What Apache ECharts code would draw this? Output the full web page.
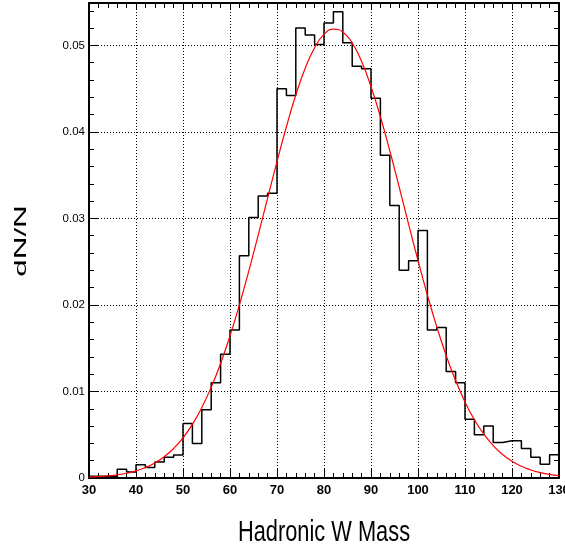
<!DOCTYPE html>
<html>
<head>
<meta charset="utf-8">
<script src="https://cdn.jsdelivr.net/npm/echarts@6/dist/echarts.min.js"></script>
<style>
html,body{margin:0;padding:0;background:#fff;}
#chart{width:565px;height:552px;}
</style>
</head>
<body>
<div id="chart"></div>
<script>
// Histogram bin left edges (bin width 2) and contents
var binEdges = [30,32,34,36,38,40,42,44,46,48,50,52,54,56,58,60,62,64,66,68,70,72,74,76,78,80,82,84,86,88,90,92,94,96,98,100,102,104,106,108,110,112,114,116,118,120,122,124,126,128];
var binValues = [0.0002,0.0002,0.0002,0.0010,0.0007,0.00154,0.0012,0.00185,0.0024,0.00266,
  0.0063,0.0040,0.0079,0.0110,0.0143,0.0171,0.0257,0.0301,0.0326,0.0329,
  0.0450,0.0442,0.0520,0.0512,0.0501,0.0526,0.0539,0.0503,0.0476,0.0473,
  0.0439,0.0373,0.0315,0.0240,0.0251,0.0286,0.0171,0.0174,0.0123,0.0110,
  0.0068,0.0050,0.0060,0.0041,0.0043,0.0043,0.0034,0.0024,0.0016,0.0027];
var histEnd = 130;

// Fit curve points
var fitX = [30,32,34,36,38,40,42,44,46,48,50,52,54,56,58,60,62,64,66,68,70,72,74,76,78,80,82,84,86,88,90,92,94,96,98,100,102,104,106,108,110,112,114,116,118,120,122,124,126,128,130];
var fitY = [0.00009,0.00015,0.00024,0.00036,0.00055,0.00083,0.00121,0.00174,0.00246,0.00341,
  0.00464,0.00620,0.00814,0.01048,0.01324,0.01643,0.0200,0.02392,0.02807,0.03234,
  0.03657,0.0406,0.04426,0.04735,0.04973,0.05127,0.05189,0.05155,0.05028,0.04814,
  0.04525,0.04175,0.03782,0.03362,0.02934,0.02514,0.02114,0.01746,0.01415,0.01126,
  0.00879,0.00674,0.00508,0.00375,0.00272,0.00194,0.00135,0.00093,0.00063,0.00041,0.00027];

var xTitle = 'Hadronic W Mass';
var yTitle = 'dN/N';

var histData = binEdges.map(function(x,i){return [x, binValues[i]];});
histData.push([histEnd, binValues[binValues.length-1]]);
var fitData = fitX.map(function(x,i){return [x, fitY[i]];});

var XMIN = 30, XMAX = 130, YMIN = 0, YMAX = 0.0549;
var narrow = "'Liberation Sans Narrow','Liberation Sans',Arial,sans-serif";
var dotted = {show:true, lineStyle:{color:'#000', width:1, type:[1,2]}};

var chart = echarts.init(document.getElementById('chart'), null, {renderer:'canvas'});
chart.setOption({
  animation:false,
  backgroundColor:'#fff',
  grid:{left:89, right:6, top:3, bottom:74, containLabel:false, outerBoundsMode:'none'},
  xAxis:[
    {type:'value', position:'bottom', min:XMIN, max:XMAX, interval:10,
     axisLine:{show:true, onZero:false, lineStyle:{color:'#000', width:2}},
     axisTick:{show:true, inside:true, length:9, lineStyle:{color:'#000', width:1}},
     minorTick:{show:true, splitNumber:5, length:5, lineStyle:{color:'#000', width:1}},
     splitLine:dotted,
     axisLabel:{show:true, margin:6, color:'#000', fontSize:13, fontWeight:'bold', fontFamily:narrow, hideOverlap:false}},
    {type:'value', position:'top', min:XMIN, max:XMAX, interval:10,
     axisLine:{show:true, onZero:false, lineStyle:{color:'#000', width:2}},
     axisTick:{show:true, inside:true, length:7, lineStyle:{color:'#000', width:1}},
     minorTick:{show:true, splitNumber:5, length:5, lineStyle:{color:'#000', width:1}},
     splitLine:{show:false}, axisLabel:{show:false}}
  ],
  yAxis:[
    {type:'value', position:'left', min:YMIN, max:YMAX, interval:0.01,
     axisLine:{show:true, onZero:false, lineStyle:{color:'#000', width:2}},
     axisTick:{show:true, inside:true, length:9, lineStyle:{color:'#000', width:1}},
     splitLine:dotted,
     axisLabel:{show:true, margin:4, color:'#000', fontSize:11.5, fontFamily:narrow, showMaxLabel:false,
       formatter:function(v){ return v===0 ? '0' : v.toFixed(2); }}},
    {type:'value', position:'left', min:YMIN, max:YMAX, interval:0.002,
     axisLine:{show:false},
     axisTick:{show:true, inside:true, length:5, lineStyle:{color:'#000', width:1}},
     splitLine:{show:false}, axisLabel:{show:false}},
    {type:'value', position:'right', min:YMIN, max:YMAX, interval:0.01,
     axisLine:{show:true, onZero:false, lineStyle:{color:'#000', width:2}},
     axisTick:{show:true, inside:true, length:9, lineStyle:{color:'#000', width:1}},
     splitLine:{show:false}, axisLabel:{show:false}},
    {type:'value', position:'right', min:YMIN, max:YMAX, interval:0.002,
     axisLine:{show:false},
     axisTick:{show:true, inside:true, length:5, lineStyle:{color:'#000', width:1}},
     splitLine:{show:false}, axisLabel:{show:false}}
  ],
  series:[
    {type:'line', name:'hist', data:histData, step:'end', showSymbol:false, symbol:'none',
     xAxisIndex:0, yAxisIndex:0, lineStyle:{color:'#000', width:1.5}, z:3, silent:true},
    {type:'line', name:'fit', data:fitData, smooth:true, showSymbol:false, symbol:'none',
     xAxisIndex:0, yAxisIndex:0, lineStyle:{color:'#ff0000', width:1.2}, z:4, silent:true}
  ],
  graphic:[
    {type:'text', x:324, y:533, scaleX:0.727, scaleY:1, z:10,
     style:{text:xTitle, fill:'#000', font:"30px 'Liberation Sans',Arial,sans-serif", textAlign:'center', textVerticalAlign:'middle'}},
    {type:'text', x:21, y:241, rotation:Math.PI/2, scaleX:1.31, scaleY:0.68, z:10,
     style:{text:yTitle, fill:'#000', font:"24px 'Liberation Sans',Arial,sans-serif", textAlign:'center', textVerticalAlign:'middle'}}
  ]
});
</script>
</body>
</html>
